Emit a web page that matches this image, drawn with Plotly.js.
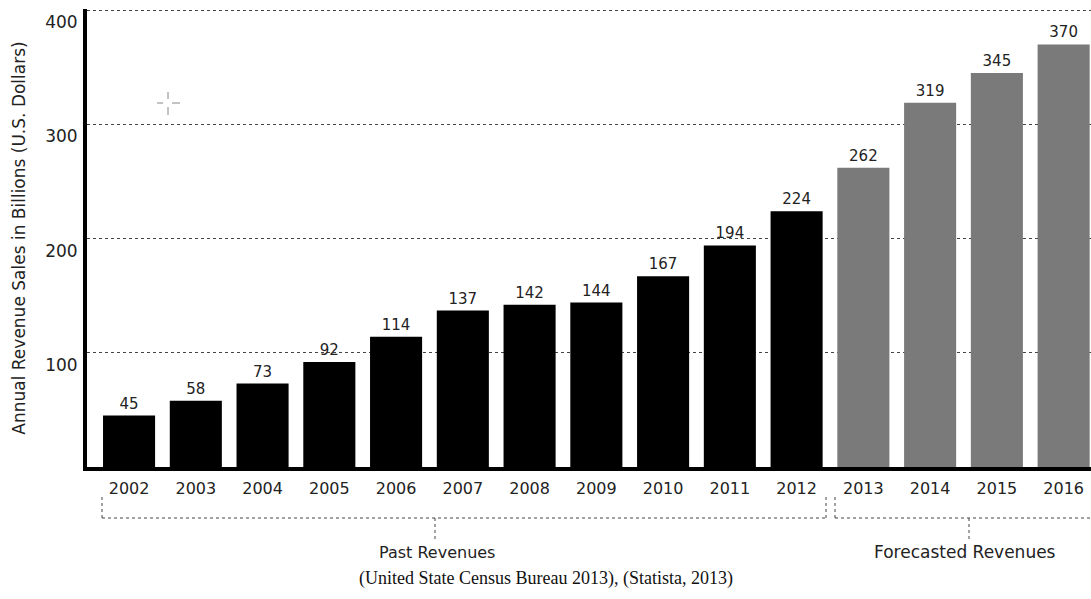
<!DOCTYPE html>
<html>
<head>
<meta charset="utf-8">
<script src="https://cdn.plot.ly/plotly-3.0.1.min.js"></script>
<style>html,body{margin:0;padding:0;background:#fff;}#chart{width:1091px;height:599px;}</style>
</head>
<body>
<div id="chart"></div>
<script>
// ---- data ----
const pastYears = ["2002","2003","2004","2005","2006","2007","2008","2009","2010","2011","2012"];
const pastValues = [45, 58, 73, 92, 114, 137, 142, 144, 167, 194, 224];
const forecastYears = ["2013","2014","2015","2016"];
const forecastValues = [262, 319, 345, 370];
const yTickValues = [100, 200, 300, 400];
const groupLabels = ["Past Revenues", "Forecasted Revenues"];
const sourceText = "(United State Census Bureau 2013), (Statista, 2013)";
const yTitle = "Annual Revenue Sales in Billions (U.S. Dollars)";

// ---- layout helpers (pixel -> paper) ----
const W = 1091, H = 599;
const mL = 87, mR = 0, mT = 9, mB = 132;
const pw = W - mL - mR, ph = H - mT - mB;
const px = x => (x - mL) / pw;
const py = y => (H - mB - y) / ph;

const textFont = "DejaVu Sans, Verdana, sans-serif";
const textColor = "#222";

const traces = [
  {
    type: "bar", x: pastYears, y: pastValues, name: "Past",
    marker: {color: "#000000"},
    text: pastValues.map(String), textposition: "outside",
    textfont: {family: textFont, size: 15, color: textColor},
    cliponaxis: false, hoverinfo: "x+y"
  },
  {
    type: "bar", x: forecastYears, y: forecastValues, name: "Forecast",
    marker: {color: "#7a7a7a"},
    text: forecastValues.map(String), textposition: "outside",
    textfont: {family: textFont, size: 15, color: textColor},
    cliponaxis: false, hoverinfo: "x+y"
  }
];

const dot = {color: "#444", width: 1, dash: "dot"};
const shapes = [];
function seg(x0, y0, x1, y1, line) {
  shapes.push({type: "line", xref: "paper", yref: "paper",
    x0: px(x0), y0: py(y0), x1: px(x1), y1: py(y1), line: line || dot});
}
// Past bracket
seg(102, 497, 102, 518);
seg(102, 518, 826, 518);
seg(826, 497, 826, 518);
seg(435, 518, 435, 540);
// Forecast bracket
seg(835, 497, 835, 518);
seg(835, 518, 1091, 518);
seg(969, 518, 969, 540);
// cursor artifact
const cur = {color: "#888", width: 1};
seg(157, 103, 163, 103, cur);
seg(172, 103, 180, 103, cur);
seg(168, 92, 168, 99, cur);
seg(168, 107, 168, 115, cur);

const annotations = [
  {xref: "paper", yref: "paper", x: px(437), y: py(552), text: groupLabels[0],
   showarrow: false, xanchor: "center", yanchor: "middle",
   font: {family: textFont, size: 16, color: textColor}},
  {xref: "paper", yref: "paper", x: px(965), y: py(552), text: groupLabels[1],
   showarrow: false, xanchor: "center", yanchor: "middle",
   font: {family: textFont, size: 17, color: textColor}},
  {xref: "paper", yref: "paper", x: px(546), y: py(578), text: sourceText,
   showarrow: false, xanchor: "center", yanchor: "middle",
   font: {family: "Liberation Serif, Times New Roman, serif", size: 18, color: "#111"}}
];

const layout = {
  width: W, height: H,
  margin: {l: mL, r: mR, t: mT, b: mB, pad: 0},
  paper_bgcolor: "#fff", plot_bgcolor: "#fff",
  showlegend: false,
  barmode: "group",
  bargap: 0.22,
  xaxis: {
    type: "category",
    range: [-0.63, 14.41],
    showline: true, linecolor: "#000", linewidth: 4,
    showgrid: false, zeroline: false, ticks: "",
    tickfont: {family: textFont, size: 16, color: textColor},
    ticklabelstandoff: 4,
    automargin: false, fixedrange: true
  },
  yaxis: {
    range: [0, 401],
    tickvals: yTickValues,
    showline: true, linecolor: "#000", linewidth: 4,
    showgrid: true, gridcolor: "#444", gridwidth: 1, griddash: "dot",
    zeroline: false, ticks: "",
    tickfont: {family: textFont, size: 17, color: textColor},
    ticklabelshift: 12,
    ticklabelstandoff: 2,
    title: {text: yTitle, font: {family: textFont, size: 17, color: textColor}, standoff: 16},
    automargin: false, fixedrange: true
  },
  shapes: shapes,
  annotations: annotations
};

Plotly.newPlot("chart", traces, layout, {displayModeBar: false, staticPlot: true});
</script>
</body>
</html>
